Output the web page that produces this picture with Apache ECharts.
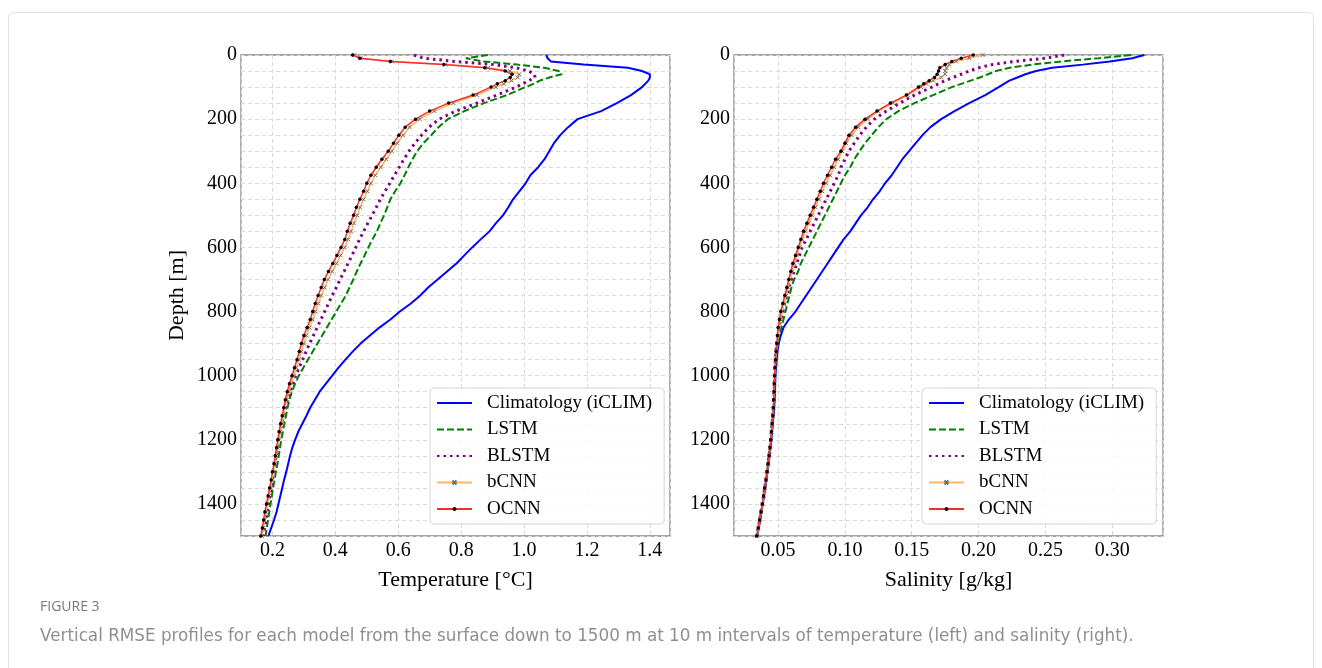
<!DOCTYPE html>
<html>
<head>
<meta charset="utf-8">
<title>Vertical RMSE profiles</title>
<script src="https://cdn.jsdelivr.net/npm/echarts@6/dist/echarts.min.js"></script>
<style>
  html, body { margin: 0; padding: 0; background: #fff; }
  #chart { width: 1322px; height: 668px; }
</style>
</head>
<body>
<div id="chart"></div>
<script>
// depth levels (m) shared by every profile
const depths = [0,10,20,30,40,50,60,70,80,90,100,
  125,150,175,200,225,250,275,300,
  325,350,375,400,425,450,475,500,
  525,550,575,600,625,650,675,700,
  725,750,775,800,825,850,875,900,
  925,950,975,1000,1025,1050,1075,1100,
  1125,1150,1175,1200,1225,1250,1275,1300,
  1325,1350,1375,1400,1425,1450,1475,1500]

const modelNames = ['Climatology (iCLIM)', 'LSTM', 'BLSTM', 'bCNN', 'OCNN']

// temperature RMSE (°C)
const tempClim = [1.07,1.075,1.085,1.19,1.33,1.375,1.40,1.40,1.395,1.385,1.375,
  1.34,1.295,1.245,1.17,1.14,1.115,1.095,1.08,
  1.065,1.045,1.02,1.005,0.985,0.965,0.95,0.933,
  0.91,0.89,0.862,0.835,0.81,0.785,0.755,0.725,
  0.695,0.67,0.64,0.605,0.575,0.54,0.51,0.48,
  0.455,0.432,0.41,0.39,0.37,0.35,0.335,0.32,
  0.308,0.295,0.282,0.272,0.263,0.256,0.25,0.244,
  0.237,0.231,0.225,0.219,0.213,0.205,0.196,0.187]
const tempLSTM = [0.885,0.815,0.87,0.98,1.065,1.11,1.12,1.08,1.05,1.03,1.005,
  0.945,0.873,0.81,0.758,0.728,0.705,0.68,0.66,
  0.645,0.632,0.62,0.607,0.59,0.575,0.565,0.555,
  0.543,0.532,0.518,0.505,0.493,0.48,0.468,0.457,
  0.445,0.433,0.418,0.403,0.388,0.373,0.358,0.343,
  0.328,0.313,0.298,0.284,0.272,0.262,0.254,0.248,
  0.243,0.238,0.233,0.228,0.224,0.22,0.216,0.211,
  0.207,0.202,0.198,0.194,0.19,0.186,0.182,0.178]
const tempBLSTM = [0.65,0.68,0.78,0.905,0.975,1.015,1.033,1.035,1.015,0.995,0.975,
  0.913,0.85,0.783,0.73,0.698,0.674,0.653,0.634,
  0.618,0.603,0.588,0.573,0.558,0.543,0.53,0.517,
  0.503,0.49,0.477,0.465,0.453,0.44,0.428,0.415,
  0.403,0.39,0.378,0.366,0.354,0.342,0.33,0.318,
  0.307,0.296,0.285,0.274,0.265,0.256,0.248,0.241,
  0.235,0.229,0.224,0.22,0.216,0.212,0.208,0.204,
  0.2,0.196,0.192,0.187,0.183,0.179,0.175,0.171]
const tempBCNN = [0.46,0.48,0.58,0.75,0.885,0.955,0.985,0.98,0.96,0.935,0.91,
  0.85,0.775,0.715,0.668,0.636,0.615,0.597,0.58,
  0.562,0.544,0.527,0.513,0.502,0.49,0.479,0.47,
  0.459,0.45,0.441,0.43,0.417,0.404,0.39,0.377,
  0.366,0.355,0.346,0.337,0.328,0.318,0.308,0.3,
  0.292,0.284,0.276,0.268,0.26,0.252,0.246,0.24,
  0.235,0.23,0.225,0.22,0.216,0.212,0.208,0.203,
  0.199,0.194,0.189,0.184,0.179,0.175,0.171,0.166]
const tempOCNN = [0.455,0.478,0.575,0.745,0.875,0.94,0.962,0.956,0.94,0.915,0.895,
  0.838,0.76,0.7,0.655,0.622,0.602,0.585,0.568,
  0.548,0.53,0.513,0.5,0.49,0.478,0.467,0.458,
  0.447,0.438,0.43,0.418,0.405,0.392,0.378,0.365,
  0.355,0.345,0.336,0.328,0.32,0.31,0.3,0.292,
  0.285,0.278,0.27,0.262,0.254,0.247,0.241,0.236,
  0.231,0.226,0.221,0.217,0.213,0.209,0.205,0.2,
  0.196,0.191,0.186,0.181,0.176,0.172,0.168,0.163]

// salinity RMSE (g/kg)
const salClim = [0.324,0.315,0.298,0.278,0.255,0.243,0.235,0.229,0.223,0.219,0.215,
  0.205,0.193,0.182,0.172,0.164,0.158,0.153,0.148,
  0.143,0.139,0.135,0.13,0.126,0.121,0.117,0.112,
  0.108,0.104,0.099,0.095,0.091,0.087,0.083,0.079,
  0.075,0.071,0.067,0.063,0.058,0.054,0.052,0.0505,
  0.0495,0.049,0.0485,0.048,0.0478,0.0476,0.0474,0.0471,
  0.0466,0.046,0.0455,0.0449,0.0442,0.0435,0.0428,0.042,
  0.0412,0.0403,0.0394,0.0385,0.0375,0.0365,0.0354,0.0344]
const salLSTM = [0.314,0.29,0.262,0.24,0.223,0.213,0.207,0.201,0.194,0.187,0.18,
  0.166,0.152,0.14,0.131,0.125,0.12,0.115,0.111,
  0.107,0.104,0.1,0.097,0.094,0.091,0.088,0.085,
  0.082,0.079,0.076,0.073,0.07,0.067,0.065,0.062,
  0.06,0.0585,0.057,0.0555,0.054,0.0525,0.051,0.0497,
  0.049,0.0485,0.048,0.0477,0.0475,0.0473,0.047,0.0467,
  0.0462,0.0457,0.0452,0.0446,0.044,0.0433,0.0426,0.0418,
  0.041,0.0401,0.0392,0.0383,0.0373,0.0363,0.0352,0.0342]
const salBLSTM = [0.264,0.25,0.227,0.21,0.2,0.193,0.187,0.181,0.175,0.17,0.165,
  0.152,0.141,0.131,0.122,0.116,0.111,0.107,0.103,
  0.1,0.097,0.095,0.092,0.089,0.086,0.083,0.08,
  0.077,0.074,0.071,0.068,0.066,0.064,0.062,0.06,
  0.058,0.0565,0.055,0.0535,0.052,0.0507,0.0497,0.049,
  0.0484,0.048,0.0477,0.0475,0.0473,0.0471,0.0468,0.0465,
  0.046,0.0455,0.045,0.0445,0.0439,0.0432,0.0425,0.0417,
  0.0409,0.04,0.0391,0.0382,0.0372,0.0362,0.0351,0.0341]
const salBCNN = [0.203,0.193,0.183,0.178,0.176,0.175,0.175,0.172,0.166,0.161,0.157,
  0.147,0.136,0.125,0.117,0.11,0.105,0.101,0.098,
  0.095,0.092,0.089,0.086,0.083,0.0805,0.078,0.0755,
  0.073,0.0705,0.068,0.066,0.064,0.062,0.0605,0.059,
  0.0575,0.056,0.0545,0.053,0.0518,0.0508,0.05,0.0493,
  0.0487,0.0482,0.0478,0.0474,0.0472,0.047,0.0468,0.0465,
  0.0461,0.0456,0.0451,0.0446,0.044,0.0433,0.0426,0.0418,
  0.041,0.0402,0.0393,0.0384,0.0374,0.0364,0.0353,0.0343]
const salOCNN = [0.196,0.187,0.18,0.175,0.171,0.17,0.169,0.167,0.163,0.159,0.155,
  0.146,0.134,0.124,0.115,0.108,0.103,0.1,0.097,
  0.093,0.09,0.087,0.084,0.0815,0.079,0.0765,0.074,
  0.0715,0.069,0.067,0.065,0.063,0.061,0.0595,0.058,
  0.0565,0.055,0.0535,0.052,0.051,0.05,0.0495,0.049,
  0.0485,0.048,0.0476,0.0473,0.0471,0.0469,0.0467,0.0464,
  0.046,0.0455,0.045,0.0445,0.0439,0.0432,0.0425,0.0417,
  0.0409,0.04,0.0391,0.0382,0.0372,0.0362,0.0351,0.034]

const tempProfiles = [tempClim, tempLSTM, tempBLSTM, tempBCNN, tempOCNN]
const salProfiles = [salClim, salLSTM, salBLSTM, salBCNN, salOCNN]

const serif = 'Liberation Serif'
const gridColor = '#d9d9d9'
const frameColor = '#878787'

const lineLook = [
  { symbol: 'none', lineStyle: { color: '#0000ff', width: 2 }, itemStyle: { color: '#0000ff' } },
  { symbol: 'none', lineStyle: { color: '#008000', width: 2, type: [7, 3] }, itemStyle: { color: '#008000' } },
  { symbol: 'none', lineStyle: { color: '#800080', width: 3, type: [2.5, 4] }, itemStyle: { color: '#800080' } },
  { symbol: 'path://M0,0L10,10M10,0L0,10', symbolSize: 4,
    lineStyle: { color: '#ffb65c', width: 1.5 },
    itemStyle: { color: '#6e6e6e', borderColor: '#6e6e6e', borderWidth: 1 } },
  { symbol: 'circle', symbolSize: 3.5, lineStyle: { color: '#ff2a2a', width: 1.5 }, itemStyle: { color: '#000' } }
]

const buildSeries = (profiles, idx) => profiles.map((vals, k) => ({
  type: 'line',
  name: modelNames[k],
  xAxisIndex: idx,
  yAxisIndex: idx,
  data: vals.map((v, i) => [v, depths[i]]),
  showSymbol: lineLook[k].symbol !== 'none',
  emphasis: { disabled: true },
  ...lineLook[k]
}))

const xAxisBase = (name, digits, min, max, step) => ({
  type: 'value',
  min: min,
  max: max,
  minInterval: step,
  maxInterval: step,
  splitNumber: 7,
  name: name,
  nameLocation: 'middle',
  nameGap: 33,
  nameTextStyle: { fontFamily: serif, fontSize: 22, color: '#000' },
  axisLine: { show: false },
  axisTick: { show: false },
  axisLabel: {
    fontFamily: serif, fontSize: 20, color: '#000', margin: 5,
    showMinLabel: false, showMaxLabel: false,
    formatter: v => v.toFixed(digits)
  },
  splitLine: { show: true, lineStyle: { color: gridColor, type: [4, 3], width: 1 } }
})

const yAxisBase = (withName) => ({
  type: 'value',
  inverse: true,
  min: 0,
  max: 1500,
  interval: 50,
  name: withName ? 'Depth [m]' : '',
  nameLocation: 'middle',
  nameRotate: 90,
  nameGap: 53,
  nameTextStyle: { fontFamily: serif, fontSize: 22, color: '#000' },
  axisLine: { show: false },
  axisTick: { show: false },
  axisLabel: {
    fontFamily: serif, fontSize: 20, color: '#000', margin: 4,
    formatter: v => (v % 200 === 0 && v < 1500) ? String(v) : ''
  },
  splitLine: { show: true, lineStyle: { color: gridColor, type: [4, 3], width: 1 } }
})

// the three plain lines carry no marker, so hide the legend symbol for them
const legendItems = modelNames.map((n, k) => k < 3
  ? { name: n, itemStyle: { color: 'rgba(0,0,0,0)', borderWidth: 0, opacity: 0 } }
  : { name: n })

const legendBase = (left) => ({
  orient: 'vertical',
  left: left,
  top: 388,
  data: legendItems,
  itemWidth: 35,
  itemHeight: 5,
  itemGap: 6.5,
  padding: [5, 12, 5, 6],
  backgroundColor: 'rgba(255,255,255,0.85)',
  borderColor: '#d6d6d6',
  borderWidth: 1,
  borderRadius: 4,
  selectedMode: false,
  textStyle: { fontFamily: serif, fontSize: 19, color: '#000', lineHeight: 20, padding: [0, 0, 0, 10] }
})

const chart = echarts.init(document.getElementById('chart'))

const option = {
  animation: false,
  backgroundColor: '#fff',
  title: [
    { text: 'FIGURE 3', left: 40, top: 600, padding: 0,
      textStyle: { fontFamily: 'Open Sans', fontSize: 14, fontWeight: 'normal', color: '#7a7a7a' } },
    { text: 'Vertical RMSE profiles for each model from the surface down to 1500 m at 10 m intervals of temperature (left) and salinity (right).',
      left: 40, top: 628, padding: 0,
      textStyle: { fontFamily: 'DejaVu Sans', fontSize: 16.8, fontWeight: 'normal', color: '#8f8f8f' } }
  ],
  graphic: [
    { type: 'rect', silent: true, z: -10,
      shape: { x: 8.5, y: 12.5, width: 1305, height: 700, r: 5 },
      style: { fill: 'none', stroke: '#e2e2e2', lineWidth: 1 } }
  ],
  grid: [
    { left: 241, top: 55, width: 429, height: 481, show: true, borderColor: frameColor, borderWidth: 1.3 },
    { left: 734, top: 55, width: 429, height: 481, show: true, borderColor: frameColor, borderWidth: 1.3 }
  ],
  xAxis: [
    { gridIndex: 0, ...xAxisBase('Temperature [°C]', 1, 0.1, 1.464, 0.2) },
    { gridIndex: 1, ...xAxisBase('Salinity [g/kg]', 2, 0.017, 0.338, 0.05) }
  ],
  yAxis: [
    { gridIndex: 0, ...yAxisBase(true) },
    { gridIndex: 1, ...yAxisBase(false) }
  ],
  legend: [legendBase(430), legendBase(922)],
  series: [...buildSeries(tempProfiles, 0), ...buildSeries(salProfiles, 1)]
}

chart.setOption(option)
</script>
</body>
</html>
